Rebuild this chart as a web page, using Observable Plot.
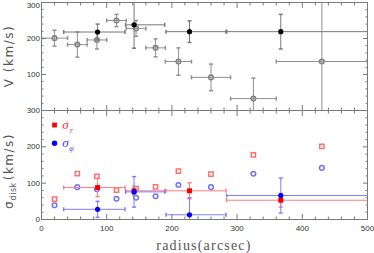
<!DOCTYPE html>
<html><head>
<meta charset="utf-8">
<script src="https://cdn.jsdelivr.net/npm/d3@7"></script>
<script src="https://cdn.jsdelivr.net/npm/@observablehq/plot@0.6"></script>
<style>
body{margin:0;background:#fff;}
#wrap{position:relative;width:374px;height:253px;overflow:hidden;background:#fff;}
#wrap svg{position:absolute;left:0;overflow:visible;}
</style>
</head><body><div id="wrap"></div>
<script>
// ring data (open symbols)
const ringR      = [20, 55, 85, 115, 145, 175, 210, 260, 325, 430];
const ringRerr   = [20, 15, 15, 15, 15, 15, 20, 30, 35, 70];
const ringV      = [201, 183, 196, 250, 228, 174, 136, 92, 33, 136];
const ringVerr   = [22, 35, 25, 17, 22, 25, 38, 37, 57, 200];
const ringSigR   = [56, 126, 119, 81, 85, 90, 133, 125, 178, 201];
const ringSigPhi = [39, 89, 83, 57, 60, 64, 95, 89, 126, 142];
// binned data (filled symbols)
const binR         = [86, 142, 227, 367];
const binRlo       = [34, 129, 191, 284];
const binRhi       = [128, 189, 283, 520];
const binV         = [218, 238, 219, 219];
const binVerr      = [22, 65, 30, 48];
const binSigR      = [88, 79, 79, 53];
const binSigRerr   = [25, 12, 22, 19];
const binSigPhi    = [28, 76, 13, 66];
const binSigPhiErr = [22, 42, 47, 48];
// legend
const legendX = [20, 20];
const legendY = [260, 210];
const legendSub = ["r", "φ"];
const xMajor = [0, 100, 200, 300, 400, 500];
const yMajor = [0, 100, 200, 300];
const yTopLabels = [100, 200];
const yTopEdgeLabel = [300];

const rings = ringR.map((r, i) => ({r, rerr: ringRerr[i], v: ringV[i], verr: ringVerr[i], sr: ringSigR[i], sp: ringSigPhi[i]}));
const bins = binR.map((r, i) => ({r, lo: binRlo[i], hi: binRhi[i], v: binV[i], verr: binVerr[i],
  sr: binSigR[i], srerr: binSigRerr[i], sp: binSigPhi[i], sperr: binSigPhiErr[i]}));
const legend = legendX.map((x, i) => ({x, y: legendY[i], sub: legendSub[i]}));

const vbar = {draw(ctx, size){const r = Math.sqrt(size / Math.PI); ctx.moveTo(0, -r); ctx.lineTo(0, r);}};
const hbar = {draw(ctx, size){const r = Math.sqrt(size / Math.PI); ctx.moveTo(-r, 0); ctx.lineTo(r, 0);}};

function frameMarks() {
  const xMin = d3.range(0, 501, 20).filter(v => v % 100);
  const yMin = d3.range(0, 301, 20).filter(v => v % 100);
  const st = {stroke: "#7a7a7a", label: null, tickFormat: () => ""};
  return [
    ...["bottom", "top"].flatMap(a => [
      Plot.axisX(xMajor, {anchor: a, tickSize: -5, ...st}),
      Plot.axisX(xMin, {anchor: a, tickSize: -2.5, ...st})]),
    ...["left", "right"].flatMap(a => [
      Plot.axisY(yMajor, {anchor: a, tickSize: -5, ...st}),
      Plot.axisY(yMin, {anchor: a, tickSize: -2.5, ...st})]),
    Plot.frame({stroke: "#7a7a7a"})
  ];
}

function errMarks(data, {x, y, xlo, xhi, ylo, yhi, stroke, r = 2}) {
  return [
    Plot.link(data, {x1: xlo, x2: xhi, y1: y, y2: y, stroke, clip: true}),
    Plot.link(data, {x1: x, x2: x, y1: ylo, y2: yhi, stroke, clip: true}),
    Plot.dot(data, {x: xlo, y, symbol: vbar, r, stroke, clip: true}),
    Plot.dot(data, {x: xhi, y, symbol: vbar, r, stroke, clip: true}),
    Plot.dot(data, {x, y: ylo, symbol: hbar, r, stroke, clip: true}),
    Plot.dot(data, {x, y: yhi, symbol: hbar, r, stroke, clip: true})
  ];
}

const common = {
  width: 374, marginLeft: 41, marginRight: 7,
  x: {domain: [0, 500]}, y: {domain: [0, 300]},
  style: {fontFamily: "Liberation Sans, Arial, sans-serif", fontSize: "8px", color: "#333", background: "transparent", overflow: "visible"}
};

const topPlot = Plot.plot({
  ...common, height: 111, marginTop: 2, marginBottom: 1,
  marks: [
    ...errMarks(rings, {x: "r", y: "v", xlo: d => d.r - d.rerr, xhi: d => d.r + d.rerr,
      ylo: d => d.v - d.verr, yhi: d => d.v + d.verr, stroke: "#909090"}),
    Plot.dot(rings, {x: "r", y: "v", r: 2.3, stroke: "#808080", fill: "none"}),
    ...errMarks(bins, {x: "r", y: "v", xlo: "lo", xhi: "hi",
      ylo: d => d.v - d.verr, yhi: d => d.v + d.verr, stroke: "#777"}),
    Plot.dot(bins, {x: "r", y: "v", r: 2.6, fill: "black"}),
    ...frameMarks(),
    Plot.axisY(yTopLabels, {anchor: "left", tickSize: 0, tickPadding: 1.5, label: null}),
    Plot.axisY(yTopEdgeLabel, {anchor: "left", tickSize: 0, tickPadding: 1.5, label: null, dy: 2.5})
  ]
});

const bottomPlot = Plot.plot({
  ...common, height: 143, marginTop: 0, marginBottom: 34,
  marks: [
    Plot.dot(rings, {x: "r", y: "sr", symbol: "square", r: 2.4, stroke: "#ff7070", fill: "none"}),
    Plot.dot(rings, {x: "r", y: "sp", r: 2.3, stroke: "#7070ff", fill: "none"}),
    ...errMarks(bins, {x: "r", y: "sr", xlo: "lo", xhi: "hi",
      ylo: d => d.sr - d.srerr, yhi: d => d.sr + d.srerr, stroke: "#ff7f7f"}),
    ...errMarks(bins, {x: "r", y: "sp", xlo: "lo", xhi: "hi",
      ylo: d => d.sp - d.sperr, yhi: d => d.sp + d.sperr, stroke: "#7f7fff"}),
    Plot.dot(bins, {x: "r", y: "sr", symbol: "square", r: 2.8, fill: "#ff0000"}),
    Plot.dot(bins, {x: "r", y: "sp", r: 2.6, fill: "#0000ff"}),
    // legend
    Plot.dot(legend, {x: "x", y: "y", symbol: d => d.sub === "r" ? "square" : "circle", r: 2.7,
      fill: d => d.sub === "r" ? "#ff0000" : "#0000ff"}),
    Plot.text(legend, {x: "x", y: "y", text: () => "σ", dx: 11, dy: 0, fontSize: 13, fontStyle: "italic",
      fontFamily: "Liberation Serif, serif", fill: d => d.sub === "r" ? "#ff2a2a" : "#3a3aff"}),
    Plot.text(legend, {x: "x", y: "y", text: "sub", dx: 17, dy: 5, fontSize: 8, fontStyle: "italic",
      fontFamily: "Liberation Serif, serif", fill: d => d.sub === "r" ? "#ff2a2a" : "#3a3aff"}),
    ...frameMarks(),
    Plot.axisY(yMajor, {anchor: "left", tickSize: 0, tickPadding: 1.5, label: null}),
    Plot.axisX(xMajor, {anchor: "bottom", tickSize: 0, tickPadding: 6, label: null})
  ]
});

const wrap = document.getElementById("wrap");
topPlot.style.top = "0px";
bottomPlot.style.top = "110px";
wrap.appendChild(topPlot);
wrap.appendChild(bottomPlot);

d3.select(topPlot).append("text")
  .attr("transform", "translate(13,56) rotate(-90)")
  .attr("text-anchor", "middle")
  .attr("font-family", "DejaVu Sans, sans-serif").attr("font-size", 12)
  .attr("letter-spacing", "1.5px").attr("fill", "#555")
  .text("V (km/s)");

const sl = d3.select(bottomPlot).append("text")
  .attr("transform", "translate(13,61) rotate(-90)")
  .attr("text-anchor", "middle")
  .attr("font-family", "DejaVu Sans, sans-serif").attr("font-size", 12)
  .attr("fill", "#555");
sl.append("tspan").text("σ");
sl.append("tspan").attr("font-size", 8).attr("dy", 3).attr("dx", 1).attr("letter-spacing", "0.5px").text("disk");
sl.append("tspan").attr("dy", -3).attr("dx", 2).attr("letter-spacing", "1.5px").text("(km/s)");

d3.select(bottomPlot).append("text")
  .attr("x", 204).attr("y", 140)
  .attr("text-anchor", "middle")
  .attr("font-family", "Liberation Serif, serif").attr("font-size", 14)
  .attr("letter-spacing", "1.2px").attr("fill", "#555")
  .text("radius(arcsec)");
</script>
</body></html>
